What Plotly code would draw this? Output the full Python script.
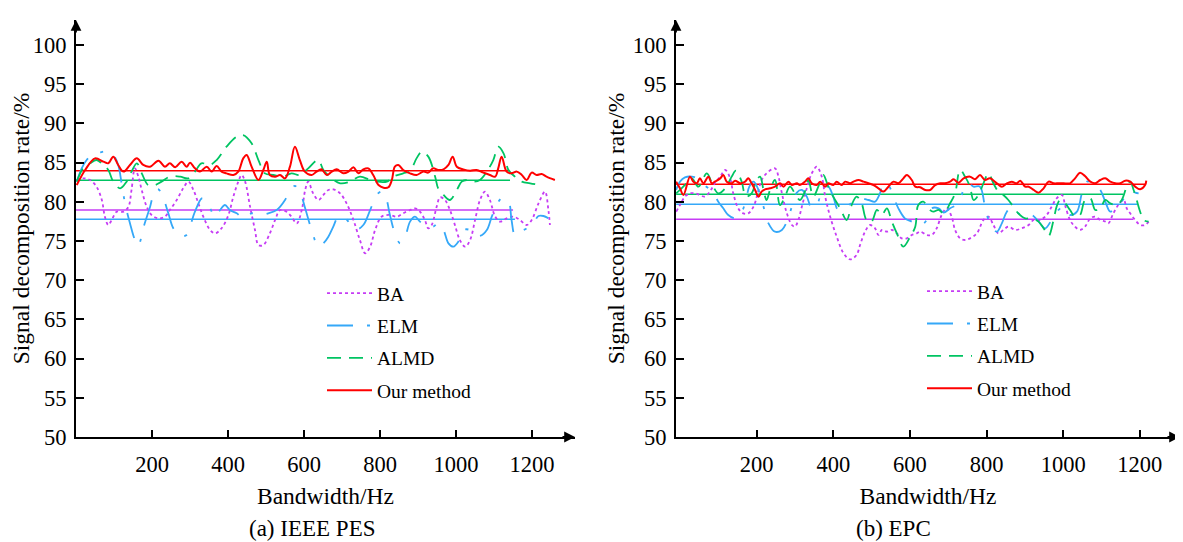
import plotly.graph_objects as go

FONT = "Liberation Serif"

series_names = ["BA", "ELM", "ALMD", "Our method"]
series_colors = ["#c63cf5", "#35a8f8", "#00c462", "#ff0000"]
series_dash = ["3px,3px", "26px,14px,3px,14px", "14px,8px", "solid"]
series_width = [1.8, 1.8, 1.8, 2.0]

y_ticks = [50, 55, 60, 65, 70, 75, 80, 85, 90, 95, 100]
x_ticks = [200, 400, 600, 800, 1000, 1200]

# (a) IEEE PES
pes_ba_x = [2, 19, 37, 54, 68, 76, 85, 94, 107, 125, 138, 146, 155, 164, 173, 186, 199, 217, 234, 247,
            265, 282, 296, 309, 322, 335, 353, 366, 383, 401, 414, 427, 436, 445, 458, 471, 480, 493, 510, 524,
            537, 554, 567, 581, 594, 603, 611, 624,
            638, 651, 664, 677, 695, 712, 730, 747, 761, 774, 787, 804, 826, 844, 861, 879, 892, 905, 918, 927,
            936, 949, 958, 971, 984, 997, 1010, 1024, 1037, 1050, 1063, 1076, 1089, 1103, 1116, 1133, 1151, 1168,
            1186, 1199, 1217, 1234, 1243, 1247]
pes_ba_y = [82.78, 82.99, 82.78, 81.93, 80.23, 78.1, 77.04, 77.68, 78.74, 78.74, 79.38, 81.5, 84.27, 83.21,
            81.5, 79.38, 78.32, 77.89, 78.1, 78.95, 80.23, 81.72, 82.57, 81.5, 79.8, 78.1, 76.4, 75.98, 76.62,
            78.32, 80.66, 82.57, 83.42, 82.57, 79.38, 76.4, 74.49, 74.49, 75.98, 77.68, 78.95, 78.74, 78.1,
            77.25, 78.95, 81.5, 82.57, 81.08,
            80.23, 80.87, 81.5, 81.59, 81.08, 79.8, 77.68, 75.13, 73.43, 74.28, 76.4, 78.1, 78.32, 78.1, 78.53,
            78.95, 79.17, 78.74, 77.68, 76.62, 77.04, 79.38, 80.57, 80.23, 78.95, 77.04, 75.13, 74.28, 75.13,
            77.68, 80.23, 81.29, 80.23, 78.1, 77.47, 77.89, 78.1, 77.68, 77.04, 77.68, 79.8, 81.29, 78.95, 77.04]

pes_elm_x = [2, 15, 28, 46, 63, 81, 98, 111, 120, 129, 142, 155, 164, 170, 177, 195, 208, 217, 230, 243,
             256, 274, 291, 300, 313, 331, 339, 353, 366, 379, 392, 405, 423, 440, 462, 484, 506, 528, 550, 563,
             576, 589, 603, 620, 638,
             651, 664, 677, 690, 704, 721, 739, 756, 774, 791, 804, 816, 826, 839, 853, 866, 879, 892, 905, 923,
             940, 953, 967, 980, 993, 1006, 1019, 1037, 1050, 1063, 1081, 1094, 1107, 1120, 1138, 1146, 1155,
             1168, 1186, 1203, 1217, 1230, 1243]
pes_elm_y = [82.57, 84.27, 85.33, 86.1, 86.31, 86.4, 85.97, 84.69, 82.36, 79.8, 77.25, 75.13, 74.36, 75.13,
             76.62, 79.38, 81.5, 81.59, 80.44, 78.53, 76.62, 75.64, 75.77, 76.83, 78.74, 80.44, 80.31, 79.17,
             78.02, 78.95, 79.59, 78.95, 78.53, 77.89, 78.53, 78.32, 78.53, 78.95, 80.23, 81.5, 82.02, 81.29,
             79.17, 76.4, 74.28,
             74.7, 75.55, 76.83, 78.1, 78.1, 77.25, 76.49, 77.04, 78.95, 80.87, 81.29, 80.44, 78.32, 75.98, 74.7,
             75.55, 77.47, 78.1, 77.47, 76.83, 76.83, 77.25, 76.4, 74.7, 74.28, 74.92, 76.4, 76.4, 75.77, 75.64,
             76.4, 78.1, 79.59, 80.44, 80.02, 77.68, 75.77, 76.19, 76.62, 77.25, 78.19, 78.19, 77.89]

pes_almd_x = [2, 19, 37, 54, 72, 85, 98, 116, 133, 146, 160, 173, 190, 208, 225, 247, 274, 295, 313, 330,
              352, 370, 396, 423, 440, 462, 480, 497, 519, 545, 567, 589, 611, 637,
              651, 668, 695, 721, 747, 774, 791, 818, 835, 861, 879, 896, 910, 927, 945, 953, 967, 984, 1002,
              1015, 1028, 1046, 1063, 1081, 1098, 1111, 1125, 1138, 1155, 1173, 1195, 1221]
pes_almd_y = [82.57, 84.27, 84.91, 85.33, 84.7, 84.06, 82.57, 81.72, 82.57, 83.85, 84.91, 83.63, 82.14, 82.14,
              82.57, 83.21, 83.21, 82.99, 83.85, 84.91, 84.7, 85.33, 87.03, 88.31, 88.52, 87.46, 85.33, 83.63,
              83.42, 83.21, 83.63, 83.42, 84.27, 85.33,
              84.06, 83.21, 82.36, 82.57, 83.21, 82.78, 82.57, 82.57, 83.21, 83.63, 83.93, 85.54, 86.39, 85.76,
              83.21, 81.72, 80.87, 80.23, 81.51, 82.57, 82.78, 82.57, 82.78, 83.85, 85.33, 87.03, 86.18, 84.06,
              83.21, 82.57, 82.36, 82.14]

pes_our_x = [2, 24, 50, 72, 85, 98, 111, 125, 142, 160, 177, 195, 217, 234, 247, 261, 278, 291, 300, 313,
             326, 344, 357, 370, 383, 396, 414, 427, 440, 449, 462, 480, 493, 502, 510, 524, 537, 550, 563, 576,
             589, 602, 620,
             633, 646, 660, 673, 686, 703, 717, 730, 743, 756, 769, 782, 796, 809, 822, 831, 839, 848, 861, 879,
             896, 914, 927, 940, 953, 967, 980, 991, 1002, 1019, 1037, 1054, 1072, 1089, 1103, 1111, 1120, 1133,
             1146, 1160, 1173, 1186, 1199, 1212, 1225, 1238, 1260]
pes_our_y = [82.14, 84.06, 85.54, 85.12, 84.91, 85.76, 84.7, 83.85, 84.7, 85.54, 84.7, 84.48, 85.25, 84.48,
             84.91, 84.4, 85.12, 84.48, 84.99, 84.27, 83.85, 84.48, 83.85, 84.57, 83.85, 83.63, 83.42, 83.85,
             85.54, 85.97, 84.48, 82.78, 84.06, 85.12, 83.42, 83.21, 83.42, 82.99, 84.48, 87.03, 85.33, 83.85,
             83.42,
             83.85, 84.14, 83.42, 83.85, 84.14, 83.63, 83.85, 84.4, 83.63, 84.14, 84.27, 83.42, 82.14, 81.8,
             81.85, 82.78, 84.48, 84.7, 84.06, 83.63, 83.42, 83.85, 83.72, 84.27, 84.06, 84.14, 84.7, 85.76,
             84.48, 84.14, 83.97, 84.06, 83.72, 83.42, 83.21, 84.27, 85.76, 83.85, 83.63, 83.85, 83.42, 82.78,
             83.72, 83.42, 83.55, 83.21, 82.78]

pes_means = [78.95, 77.77, 82.74, 83.97]
pes_mean_start = [0, 0, 0, 0]
pes_mean_end = [1150, 1155, 1142, 1142]

# (b) EPC
epc_ba_x = [-10, 0, 13, 26, 39, 52, 65, 78, 91, 105, 118, 131, 139, 152, 165, 178, 192, 205, 213, 226,
            248, 257, 266, 279, 292, 300, 309, 318, 331, 344, 357, 370, 379, 392, 409, 427, 444, 461, 470, 483,
            496, 509, 518, 527, 540, 553, 566, 579, 592, 605, 618, 627,
            644, 657, 670, 683, 696, 709, 718, 731, 744, 757, 775, 792, 805, 818, 831, 844, 857, 875, 892, 910,
            923, 940, 957, 970, 983, 997, 1005, 1018, 1031, 1044, 1057, 1071, 1084, 1097, 1110, 1118, 1131,
            1144, 1158, 1166, 1175, 1188, 1201, 1214, 1223]
epc_ba_y = [78.74, 79.59, 80.66, 81.08, 81.08, 80.87, 80.66, 81.3, 82.36, 83.21, 84.06, 82.99, 81.08, 79.17,
            78.53, 78.53, 79.38, 81.51, 82.78, 83.63, 84.27, 83.21, 81.08, 78.53, 77.04, 76.83, 77.68, 79.38,
            81.72, 83.63, 84.48, 83.21, 80.66, 78.1, 75.56, 73.43, 72.66, 73.22, 74.49, 76.19, 77.04, 76.62,
            75.77, 76.41, 76.19, 76.41, 75.98, 75.34, 75.34, 75.77, 75.98, 76.19,
            75.77, 75.77, 76.62, 78.32, 79.17, 78.1, 76.41, 75.34, 75.13, 75.34, 75.98, 77.68, 78.1, 77.04,
            75.98, 76.41, 76.83, 76.41, 76.62, 77.04, 77.68, 77.68, 78.32, 79.38, 80.44, 80.87, 79.59, 77.68,
            76.83, 76.41, 76.83, 77.89, 78.1, 77.68, 77.47, 77.26, 78.53, 79.59, 80.23, 79.17, 78.53, 77.68,
            77.04, 77.04, 77.47]

epc_elm_x = [-10, 0, 13, 31, 44, 57, 74, 87, 100, 113, 126, 144, 157, 170, 181, 192, 205, 218, 231, 248,
             266, 279, 292, 305, 318, 331, 344, 357, 374, 387, 400, 413, 431, 448, 470, 492, 509, 522, 531, 544,
             557, 570, 587, 605, 622,
             631, 644, 657, 675, 688, 705, 727, 740, 753, 766, 783, 796, 809, 827, 840, 853, 866, 883, 901, 918,
             936, 953, 970, 988, 1001, 1018, 1036, 1049, 1062, 1079, 1097, 1110, 1123, 1136, 1149, 1162, 1175,
             1188, 1197]
epc_elm_y = [81.51, 82.57, 83.12, 83.21, 82.99, 82.36, 81.72, 81.08, 80.02, 79.17, 78.32, 77.89, 78.32, 79.81,
             81.93, 82.57, 81.51, 79.38, 77.26, 76.19, 76.41, 77.47, 79.38, 81.17, 81.51, 80.66, 79.17, 79.59,
             81.72, 81.93, 80.66, 78.96, 79.38, 79.81, 80.44, 80.23, 80.02, 81.08, 82.44, 82.14, 80.66, 79.17,
             77.89, 77.47, 77.04,
             77.04, 77.68, 79.17, 79.17, 78.62, 79.17, 79.81, 81.51, 82.36, 81.93, 81.93, 79.38, 77.26, 76.19,
             77.26, 78.74, 79.38, 78.53, 78.1, 78.32, 77.47, 76.62, 77.68, 78.96, 79.38, 78.32, 78.74, 81.08,
             82.57, 82.36, 81.51, 80.02, 78.74, 79.38, 79.81, 80.66, 81.42, 81.17, 81.08]

epc_almd_x = [-10, 4, 17, 31, 48, 70, 87, 100, 118, 135, 146, 161, 172, 187, 200, 209, 218, 226, 235, 248,
              261, 274, 287, 300, 313, 326, 335, 348, 361, 374, 387, 400, 418, 435, 448, 461, 474, 487, 500, 514,
              527, 540, 553, 566, 583, 601, 614,
              622, 635, 648, 661, 675, 688, 705, 718, 731, 744, 757, 766, 779, 792, 805, 818, 831, 844, 857, 870,
              883, 901, 918, 936, 949, 962, 975, 983, 992, 1005, 1018, 1031, 1044, 1057, 1071, 1084, 1097, 1110,
              1123, 1140, 1153, 1166, 1175, 1184, 1192, 1201, 1210, 1223]
epc_almd_y = [81.08, 81.72, 82.36, 82.99, 81.93, 83.63, 81.93, 81.08, 81.72, 83.21, 83.97, 82.57, 80.66, 81.08,
              82.78, 83.21, 81.51, 80.23, 81.51, 82.78, 79.59, 80.66, 81.93, 81.08, 80.23, 81.3, 82.78, 80.66,
              81.93, 83.42, 81.93, 80.66, 79.17, 77.68, 79.59, 80.66, 79.81, 77.68, 77.47, 78.96, 78.32, 79.17,
              77.47, 75.98, 74.28, 75.56, 76.83,
              79.59, 80.02, 79.17, 78.74, 78.96, 78.53, 79.81, 81.08, 84.06, 83.21, 81.93, 80.23, 80.87, 82.36,
              83.63, 82.36, 81.3, 80.87, 80.23, 79.38, 78.53, 77.89, 77.89, 77.47, 76.62, 75.64, 77.68, 79.38,
              80.23, 79.81, 78.96, 78.1, 78.32, 80.23, 80.44, 78.96, 79.17, 80.23, 79.81, 79.59, 80.23, 81.93,
              82.57, 81.51, 80.23, 78.74, 77.68, 77.47]

epc_our_x = [-10, 0, 9, 26, 35, 44, 52, 61, 74, 83, 91, 105, 113, 122, 135, 144, 157, 170, 178, 187,
             196, 205, 213, 222, 235, 248, 261, 270, 283, 292, 305, 313, 326, 335, 344, 357, 366, 379, 387, 400,
             409, 422, 431, 444, 453, 466, 479, 492, 505, 518, 531, 544, 557, 570, 583, 592, 605,
             614, 627, 640, 653, 666, 679, 692, 705, 714, 727, 740, 757, 770, 783, 796, 809, 827, 840, 853, 866,
             879, 888, 901, 910, 923, 936, 949, 962, 975, 988, 1001, 1018, 1031, 1044, 1057, 1071, 1084, 1097,
             1110, 1123, 1136, 1149, 1162, 1175, 1188, 1201, 1214, 1217]
epc_our_y = [82.57, 81.72, 80.87, 83.21, 82.57, 82.36, 82.99, 82.36, 83.21, 82.36, 82.57, 82.99, 83.42, 82.57,
             82.36, 82.7, 82.36, 82.57, 82.99, 82.36, 81.51, 80.66, 81.3, 81.59, 81.72, 81.93, 82.36, 81.93,
             82.57, 82.14, 82.36, 82.14, 82.57, 82.99, 82.36, 82.14, 82.57, 81.93, 82.36, 82.14, 82.57, 82.14,
             82.57, 82.36, 82.57, 82.78, 82.57, 82.36, 82.14, 81.72, 81.3, 81.93, 82.57, 82.36, 82.99, 83.42,
             82.78,
             81.93, 81.85, 81.51, 81.51, 82.14, 82.36, 82.36, 82.57, 82.87, 82.44, 82.99, 83.21, 82.87, 83.42,
             82.78, 82.99, 82.36, 81.93, 82.36, 82.57, 82.36, 82.7, 81.93, 81.93, 81.51, 81.17, 81.72, 82.57,
             82.36, 82.36, 82.36, 82.36, 82.99, 83.72, 83.29, 82.57, 82.36, 82.78, 82.99, 82.57, 82.36, 82.36,
             82.7, 82.57, 81.93, 81.59, 82.14, 82.7]

epc_means = [77.77, 79.68, 80.96, 82.23]
epc_mean_start = [-10, -10, -10, -10]
epc_mean_end = [1183, 1193, 1157, 1214]

pes_series = [(pes_ba_x, pes_ba_y), (pes_elm_x, pes_elm_y), (pes_almd_x, pes_almd_y), (pes_our_x, pes_our_y)]
epc_series = [(epc_ba_x, epc_ba_y), (epc_elm_x, epc_elm_y), (epc_almd_x, epc_almd_y), (epc_our_x, epc_our_y)]

fig = go.Figure()


def add_panel(series, means, mean_start, mean_end, xaxis, yaxis, legend):
    # mean lines first so the curves sit on top
    for i, name in enumerate(series_names):
        fig.add_trace(go.Scatter(
            x=[mean_start[i], mean_end[i]], y=[means[i], means[i]],
            mode="lines", line=dict(color=series_colors[i], width=1.5),
            xaxis=xaxis, yaxis=yaxis, showlegend=False, hoverinfo="skip"
        ))
    for i, name in enumerate(series_names):
        xs, ys = series[i]
        fig.add_trace(go.Scatter(
            x=xs, y=ys, name=name, mode="lines",
            line=dict(color=series_colors[i], width=series_width[i], dash=series_dash[i],
                      shape="spline", smoothing=1.0),
            xaxis=xaxis, yaxis=yaxis, legend=legend, legendgroup=f"{legend}{i}",
            legendrank=i + 1
        ))


add_panel(pes_series, pes_means, pes_mean_start, pes_mean_end, "x", "y", "legend")
add_panel(epc_series, epc_means, epc_mean_start, epc_mean_end, "x2", "y2", "legend2")

# the page body has an 8px margin, so the figure is a bit smaller than the window
PAGE_OFF = 8
W, H = 1183 - PAGE_OFF, 542 - PAGE_OFF


def px(x):
    return (x - PAGE_OFF) / W


def py(y):
    return 1 - (y - PAGE_OFF) / H


y_dom = [py(437), py(20)]

axis_common = dict(
    showline=True, linecolor="black", linewidth=1.8,
    ticks="inside", tickcolor="black", tickwidth=1.5,
    showgrid=False, zeroline=False, automargin=False,
    tickfont=dict(family=FONT, size=22.5, color="black"),
)
title_font = dict(family=FONT, size=23.5, color="black")

legend_common = dict(
    font=dict(family=FONT, size=19.5, color="black"),
    bgcolor="rgba(0,0,0,0)", borderwidth=0,
    tracegroupgap=4, itemwidth=45,
    xanchor="left", yanchor="top",
)

fig.update_layout(
    width=W, height=H,
    margin=dict(l=0, r=0, t=0, b=0),
    plot_bgcolor="white", paper_bgcolor="white",
    font=dict(family=FONT, color="black"),
    showlegend=True,
    xaxis=dict(domain=[px(76), px(575)], range=[0, 1313], anchor="y",
               tickvals=x_ticks, ticklen=7, ticklabelstandoff=6,
               title=dict(text="Bandwidth/Hz", font=title_font, standoff=12),
               **axis_common),
    yaxis=dict(domain=y_dom, range=[50, 103.19], anchor="x",
               tickvals=y_ticks, ticklen=8, ticklabelstandoff=3,
               title=dict(text="Signal decomposition rate/%", font=title_font, standoff=2),
               **axis_common),
    xaxis2=dict(domain=[px(676), px(1180)], range=[-10.4, 1305], anchor="y2",
                tickvals=x_ticks, ticklen=7, ticklabelstandoff=6,
                title=dict(text="Bandwidth/Hz", font=title_font, standoff=12),
                **axis_common),
    yaxis2=dict(domain=y_dom, range=[50, 103.19], anchor="x2",
                tickvals=y_ticks, ticklen=8, ticklabelstandoff=3,
                title=dict(text="Signal decomposition rate/%", font=title_font, standoff=2),
                **axis_common),
    legend=dict(x=px(322), y=py(274), **legend_common),
    legend2=dict(x=px(922), y=py(272), **legend_common),
)

# axis arrows
for xr, yr in [("x", "y"), ("x2", "y2")]:
    fig.add_annotation(x=1, y=0, xref=f"{xr} domain", yref=f"{yr} domain", text="",
                       showarrow=True, ax=-14, ay=0, arrowhead=2, arrowsize=1.2, arrowwidth=1.8,
                       arrowcolor="black")
    fig.add_annotation(x=0, y=1, xref=f"{xr} domain", yref=f"{yr} domain", text="",
                       showarrow=True, ax=0, ay=14, arrowhead=2, arrowsize=1.2, arrowwidth=1.8,
                       arrowcolor="black")

# captions
for cx, label in [(312, "(a) IEEE PES"), (893, "(b) EPC")]:
    fig.add_annotation(x=px(cx), y=py(528), xref="paper", yref="paper", text=label,
                       xanchor="center", yanchor="middle", showarrow=False,
                       font=dict(family=FONT, size=23, color="black"))

fig.write_html("out.html")
